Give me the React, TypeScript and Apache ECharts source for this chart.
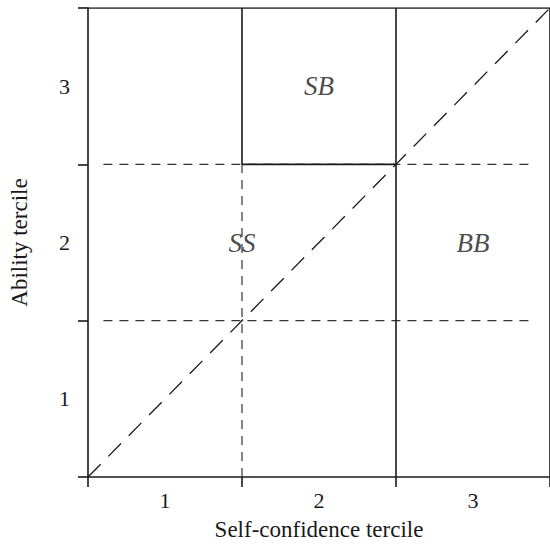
import React, { useEffect, useRef } from "react";
import * as echarts from "echarts";

const xTickLabels = ["1", "2", "3"];
const yTickLabels = ["1", "2", "3"];
const xAxisTitle = "Self-confidence tercile";
const yAxisTitle = "Ability tercile";
const boundaries = [0, 1, 2, 3];
const labelCenters = [0.5, 1.5, 2.5];

// solid region borders: [x1, y1, x2, y2]
const solidSegments: number[][] = [
  [1, 2, 1, 3],
  [1, 2, 2, 2],
  [2, 0, 2, 3],
  [0, 3, 3, 3],
  [3, 0, 3, 3],
];
// short-dashed tercile lines
const dashedSegments: number[][] = [
  [0.1, 1, 2.9, 1],
  [0.1, 2, 2.9, 2],
  [1, 0, 1, 2],
];
// long-dashed 45-degree line
const diagonalSegment: number[] = [0, 0, 3, 3];

const regionNames = ["SB", "SS", "BB"];
const regionX = [1.5, 1, 2.5];
const regionY = [2.5, 1.5, 1.5];

const FONT = "'Liberation Serif', 'Times New Roman', serif";
const INK = "#1a1a1a";

export default function App() {
  const ref = useRef<HTMLDivElement>(null);
  useEffect(() => {
    document.body.style.margin = "0";
    if (!ref.current) return;
    const chart = echarts.init(ref.current, undefined, { renderer: "svg" });
    const seg = (s: number[]) => [
      [s[0], s[1]],
      [s[2], s[3]],
    ];
    const lineSeries = (s: number[], type: any, width: number, color: string) => ({
      type: "line",
      data: seg(s),
      symbol: "none",
      silent: true,
      lineStyle: { color, width, type },
      z: 3,
    });
    const series: any[] = [];
    dashedSegments.forEach((s) => series.push(lineSeries(s, [9, 7], 1.2, "#333")));
    series.push(lineSeries(diagonalSegment, [18, 11], 1.3, INK));
    solidSegments.forEach((s) => series.push(lineSeries(s, "solid", 1.6, INK)));
    series.push({
      type: "scatter",
      symbolSize: 0,
      silent: true,
      data: regionNames.map((n, i) => ({ value: [regionX[i], regionY[i]], name: n })),
      label: {
        show: true,
        position: "inside",
        formatter: (p: any) => p.name,
        fontFamily: FONT,
        fontStyle: "italic",
        fontSize: 27,
        color: INK,
      },
      z: 5,
    });
    chart.setOption({
      animation: false,
      backgroundColor: "#fff",
      grid: { left: 83, top: 8, width: 472, height: 473 },
      xAxis: {
        type: "value",
        min: 0,
        max: 3,
        interval: 1,
        name: xAxisTitle,
        nameLocation: "middle",
        nameGap: 41,
        nameTextStyle: { fontFamily: FONT, fontSize: 23, color: INK },
        axisLine: { show: true, lineStyle: { color: INK, width: 1.6 } },
        axisTick: { show: true, length: 10, customValues: boundaries, lineStyle: { color: INK, width: 1.6 } },
        axisLabel: {
          customValues: labelCenters,
          formatter: (v: number) => xTickLabels[Math.floor(v)],
          fontFamily: FONT,
          fontSize: 22,
          color: INK,
          margin: 12,
        },
        splitLine: { show: false },
      },
      yAxis: {
        type: "value",
        min: 0,
        max: 3,
        interval: 1,
        name: yAxisTitle,
        nameLocation: "middle",
        nameRotate: 90,
        nameGap: 57,
        nameTextStyle: { fontFamily: FONT, fontSize: 23, color: INK },
        axisLine: { show: true, lineStyle: { color: INK, width: 1.6 } },
        axisTick: { show: true, length: 10, customValues: boundaries, lineStyle: { color: INK, width: 1.6 } },
        axisLabel: {
          customValues: labelCenters,
          formatter: (v: number) => yTickLabels[Math.floor(v)],
          fontFamily: FONT,
          fontSize: 22,
          color: INK,
          margin: 18,
        },
        splitLine: { show: false },
      },
      series,
    });
    return () => chart.dispose();
  }, []);
  return <div ref={ref} style={{ width: 550, height: 546 }} />;
}
